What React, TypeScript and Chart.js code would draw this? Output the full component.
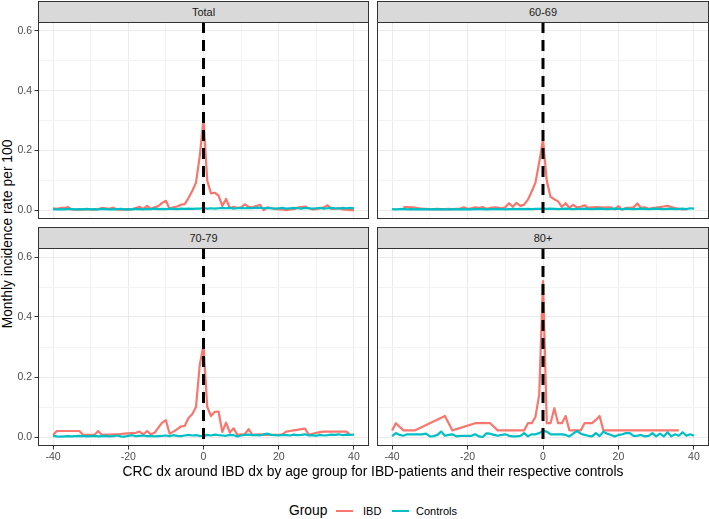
import React, { useEffect, useRef } from "react";
import { Chart, registerables } from "chart.js";

Chart.register(...registerables);

const FONT = "'Liberation Sans', Arial, Helvetica, sans-serif";
Chart.defaults.font.family = FONT;

// ---- axes ----
const X_MIN = -44;
const X_MAX = 44;
const Y_MIN = -0.03;
const Y_MAX = 0.63;
const xMajor = [-40, -20, 0, 20, 40];
const xMinor = [-30, -10, 10, 30];
const yMajor = [0, 0.2, 0.4, 0.6];
const yMinor = [0.1, 0.3, 0.5];
const refLineX = 0;

// ---- categories ----
const panelTitles = ["Total", "60-69", "70-79", "80+"];
const groupLabels = ["IBD", "Controls"];

// ---- months ----
const monthsAll = [
  -40, -39, -38, -37, -36, -35, -34, -33, -32, -31, -30, -29, -28, -27, -26, -25, -24, -23, -22, -21,
  -20, -19, -18, -17, -16, -15, -14, -13, -12, -11, -10, -9, -8, -7, -6, -5, -4, -3, -2, -1,
  0, 1, 2, 3, 4, 5, 6, 7, 8, 9, 10, 11, 12, 13, 14, 15, 16, 17, 18, 19,
  20, 21, 22, 23, 24, 25, 26, 27, 28, 29, 30, 31, 32, 33, 34, 35, 36, 37, 38, 39, 40,
];
const months6069Ibd = monthsAll.slice(3, 79); // -37 .. 38
const months7079Ibd = monthsAll.slice(0, 80); // -40 .. 39
const months80Ibd = [-40, -39, -37, -34, -26, -24, -18, -14, -12, -5, -4, -3, -2, -1, 0, 1, 2, 3, 4, 5, 6, 7, 10, 11, 13, 14, 15, 16, 36];

// ---- Total ----
const totalIbd = [
  0.006, 0.004, 0.007, 0.007, 0.010, 0.002, 0.001, 0.001, 0.002, 0.002,
  0.002, 0.001, 0.003, 0.007, 0.006, 0.004, 0.008, 0.002, 0.001, 0.002,
  0.001, 0.003, 0.007, 0.011, 0.004, 0.014, 0.004, 0.009, 0.013, 0.024,
  0.031, 0.004, 0.009, 0.012, 0.018, 0.020, 0.040, 0.064, 0.092, 0.180,
  0.304, 0.098, 0.056, 0.058, 0.048, 0.014, 0.037, 0.007, 0.011, 0.007,
  0.009, 0.019, 0.011, 0.009, 0.013, 0.018, 0.000, 0.009, 0.006, 0.004,
  0.002, 0.002, 0.000, 0.002, 0.003, 0.008, 0.010, 0.012, 0.006, 0.002,
  0.003, 0.006, 0.009, 0.016, 0.004, 0.004, 0.007, 0.002, 0.001, 0.000, 0.000,
];
const totalCtrl = [
  0.003, 0.002, 0.003, 0.002, 0.004, 0.003, 0.002, 0.003, 0.002, 0.004,
  0.002, 0.003, 0.002, 0.004, 0.003, 0.002, 0.002, 0.003, 0.004, 0.002,
  0.003, 0.002, 0.004, 0.003, 0.002, 0.004, 0.003, 0.005, 0.003, 0.004,
  0.003, 0.005, 0.004, 0.003, 0.005, 0.004, 0.005, 0.004, 0.005, 0.005,
  0.006, 0.005, 0.006, 0.005, 0.006, 0.007, 0.006, 0.007, 0.005, 0.006,
  0.007, 0.006, 0.007, 0.006, 0.008, 0.007, 0.006, 0.007, 0.006, 0.005,
  0.006, 0.007, 0.005, 0.006, 0.007, 0.006, 0.005, 0.007, 0.006, 0.005,
  0.006, 0.007, 0.005, 0.006, 0.007, 0.006, 0.005, 0.007, 0.006, 0.007, 0.006,
];

// ---- 60-69 ----
const ibd6069 = [
  0.010, 0.010, 0.009, 0.008, 0.006, 0.004, 0.004,
  0.003, 0.003, 0.004, 0.003, 0.003, 0.004, 0.003, 0.004, 0.004, 0.009,
  0.004, 0.006, 0.009, 0.007, 0.010, 0.004, 0.007, 0.009, 0.008, 0.006,
  0.009, 0.023, 0.011, 0.024, 0.014, 0.018, 0.035, 0.062, 0.092, 0.160,
  0.237, 0.098, 0.044, 0.036, 0.029, 0.011, 0.023, 0.007, 0.017, 0.009,
  0.011, 0.016, 0.007, 0.009, 0.010, 0.009, 0.008, 0.009, 0.009, 0.002,
  0.013, 0.001, 0.007, 0.007, 0.009, 0.022, 0.007, 0.009, 0.004, 0.007,
  0.008, 0.010, 0.012, 0.014, 0.010, 0.007, 0.004, 0.002, 0.003,
];
const ctrl6069 = [
  0.003, 0.002, 0.003, 0.004, 0.002, 0.003, 0.002, 0.003, 0.002, 0.003,
  0.002, 0.003, 0.002, 0.003, 0.002, 0.002, 0.003, 0.002, 0.003, 0.002,
  0.003, 0.002, 0.003, 0.004, 0.003, 0.002, 0.003, 0.003, 0.004, 0.003,
  0.002, 0.003, 0.004, 0.003, 0.004, 0.003, 0.004, 0.003, 0.004, 0.004,
  0.005, 0.004, 0.005, 0.004, 0.003, 0.004, 0.005, 0.004, 0.003, 0.004,
  0.004, 0.005, 0.004, 0.003, 0.004, 0.005, 0.004, 0.003, 0.004, 0.005,
  0.004, 0.003, 0.005, 0.004, 0.003, 0.004, 0.005, 0.004, 0.003, 0.004,
  0.005, 0.004, 0.003, 0.004, 0.005, 0.003, 0.004, 0.005, 0.003, 0.006, 0.005,
];

// ---- 70-79 ----
const ibd7079 = [
  0.007, 0.020, 0.020, 0.020, 0.020, 0.020, 0.020, 0.020, 0.007, 0.007,
  0.007, 0.007, 0.020, 0.007, 0.008, 0.008, 0.009, 0.009, 0.010, 0.011,
  0.012, 0.013, 0.014, 0.018, 0.009, 0.020, 0.009, 0.014, 0.031, 0.048,
  0.056, 0.011, 0.018, 0.026, 0.035, 0.037, 0.063, 0.076, 0.100, 0.240,
  0.306, 0.100, 0.070, 0.084, 0.085, 0.017, 0.048, 0.015, 0.029, 0.007,
  0.009, 0.010, 0.026, 0.007, 0.008, 0.009, 0.007, 0.007, 0.007, 0.007,
  0.007, 0.009, 0.018, 0.020, 0.022, 0.024, 0.026, 0.028, 0.007, 0.011,
  0.014, 0.016, 0.018, 0.018, 0.018, 0.018, 0.018, 0.018, 0.018, 0.007,
];
const ctrl7079 = [
  0.004, 0.002, 0.001, 0.002, 0.003, 0.002, 0.003, 0.004, 0.003, 0.002,
  0.003, 0.004, 0.002, 0.003, 0.004, 0.002, 0.003, 0.005, 0.002, 0.001,
  0.004, 0.006, 0.003, 0.004, 0.005, 0.003, 0.004, 0.002, 0.003, 0.004,
  0.005, 0.003, 0.006, 0.004, 0.003, 0.005, 0.007, 0.005, 0.006, 0.004,
  0.003, 0.007, 0.005, 0.008, 0.006, 0.005, 0.004, 0.007, 0.006, 0.002,
  0.005, 0.007, 0.008, 0.006, 0.007, 0.005, 0.009, 0.011, 0.007, 0.006,
  0.005, 0.007, 0.006, 0.005, 0.008, 0.006, 0.007, 0.009, 0.005, 0.006,
  0.004, 0.007, 0.005, 0.006, 0.008, 0.007, 0.009, 0.006, 0.008, 0.007, 0.008,
];

// ---- 80+ ----
const ibd80 = [
  0.022, 0.046, 0.022, 0.022, 0.070, 0.022, 0.046, 0.046, 0.022, 0.022,
  0.046, 0.046, 0.067, 0.142, 0.520, 0.046, 0.046, 0.096, 0.046, 0.046,
  0.070, 0.022, 0.022, 0.046, 0.046, 0.057, 0.070, 0.022, 0.022,
];
const ctrl80 = [
  0.003, 0.013, 0.007, 0.004, 0.009, 0.009, 0.009, 0.009, 0.009, 0.011,
  0.002, 0.003, 0.007, 0.018, 0.004, 0.007, 0.009, 0.002, 0.004, 0.004,
  0.004, 0.004, 0.009, 0.002, 0.000, 0.012, 0.011, 0.007, 0.004, 0.007,
  0.009, 0.004, 0.002, 0.002, 0.004, 0.013, 0.002, 0.009, 0.009, 0.013,
  0.020, 0.018, 0.009, 0.009, 0.009, 0.009, 0.007, 0.002, 0.011, 0.020,
  0.011, 0.007, 0.004, 0.002, 0.013, 0.003, 0.018, 0.011, 0.007, 0.002,
  0.007, 0.009, 0.013, 0.013, 0.004, 0.004, 0.007, 0.002, 0.004, 0.013,
  0.002, 0.011, 0.002, 0.016, 0.002, 0.009, 0.004, 0.016, 0.004, 0.009, 0.004,
];

const IBD_COLOR = "#F8766D";
const CTRL_COLOR = "#00BFC4";

type PanelSpec = {
  title: string;
  stripTop: number;
  plotLeft: number;
  plotTop: number;
  plotW: number;
  plotH: number;
  showX: boolean;
  showY: boolean;
  ibdX: number[];
  ibdY: number[];
  ctrlX: number[];
  ctrlY: number[];
};

const Y_AXIS_W = 22;
const X_AXIS_H = 20;

const panels: PanelSpec[] = [
  { title: panelTitles[0], stripTop: 1, plotLeft: 38, plotTop: 22, plotW: 331, plotH: 197, showX: false, showY: true, ibdX: monthsAll, ibdY: totalIbd, ctrlX: monthsAll, ctrlY: totalCtrl },
  { title: panelTitles[1], stripTop: 1, plotLeft: 377, plotTop: 22, plotW: 332, plotH: 197, showX: false, showY: false, ibdX: months6069Ibd, ibdY: ibd6069, ctrlX: monthsAll, ctrlY: ctrl6069 },
  { title: panelTitles[2], stripTop: 227, plotLeft: 38, plotTop: 248, plotW: 331, plotH: 198, showX: true, showY: true, ibdX: months7079Ibd, ibdY: ibd7079, ctrlX: monthsAll, ctrlY: ctrl7079 },
  { title: panelTitles[3], stripTop: 227, plotLeft: 377, plotTop: 248, plotW: 332, plotH: 198, showX: true, showY: false, ibdX: months80Ibd, ibdY: ibd80, ctrlX: monthsAll, ctrlY: ctrl80 },
];

const borderPlugin = {
  id: "panelBorder",
  afterDraw(chart: any) {
    const { ctx, chartArea } = chart;
    ctx.save();
    ctx.strokeStyle = "#333333";
    ctx.lineWidth = 1;
    ctx.strokeRect(chartArea.left + 0.5, chartArea.top + 0.5, chartArea.right - chartArea.left - 1, chartArea.bottom - chartArea.top - 1);
    ctx.restore();
  },
};

function zeroPadding(s: any) {
  s.paddingTop = 0;
  s.paddingBottom = 0;
  s.paddingLeft = 0;
  s.paddingRight = 0;
}

function Panel({ spec }: { spec: PanelSpec }) {
  const ref = useRef<HTMLCanvasElement>(null);
  const cw = spec.plotW + (spec.showY ? Y_AXIS_W : 0);
  const ch = spec.plotH + (spec.showX ? X_AXIS_H : 0);
  const cl = spec.plotLeft - (spec.showY ? Y_AXIS_W : 0);

  useEffect(() => {
    const xTicks = [...xMajor, ...xMinor].sort((a, b) => a - b);
    const yTicks = [...yMajor, ...yMinor].sort((a, b) => a - b);
    const chart = new Chart(ref.current as HTMLCanvasElement, {
      type: "line",
      data: {
        datasets: [
          {
            label: "ref",
            data: [
              { x: refLineX, y: Y_MAX },
              { x: refLineX, y: Y_MIN },
            ],
            borderColor: "#000000",
            borderWidth: 3,
            borderDash: [11, 7],
            borderCapStyle: "butt",
            pointRadius: 0,
          },
          {
            label: groupLabels[1],
            data: spec.ctrlX.map((x, i) => ({ x, y: spec.ctrlY[i] })),
            borderColor: CTRL_COLOR,
            borderWidth: 2.2,
            borderJoinStyle: "round",
            pointRadius: 0,
            tension: 0,
          },
          {
            label: groupLabels[0],
            data: spec.ibdX.map((x, i) => ({ x, y: spec.ibdY[i] })),
            borderColor: IBD_COLOR,
            borderWidth: 2.2,
            borderJoinStyle: "round",
            pointRadius: 0,
            tension: 0,
          },
        ],
      } as any,
      options: {
        animation: false,
        responsive: false,
        maintainAspectRatio: false,
        events: [],
        layout: { padding: 0, autoPadding: false },
        plugins: { legend: { display: false }, tooltip: { enabled: false }, title: { display: false } },
        scales: {
          x: {
            type: "linear",
            min: X_MIN,
            max: X_MAX,
            afterBuildTicks: (s: any) => {
              s.ticks = xTicks.map((v) => ({ value: v }));
            },
            afterFit: (s: any) => {
              s.height = spec.showX ? X_AXIS_H : 0;
              zeroPadding(s);
            },
            border: { display: false },
            grid: {
              color: (c: any) => (c.tick && xMajor.includes(c.tick.value) ? "#EBEBEB" : "#F4F4F4"),
              lineWidth: 1,
              drawTicks: spec.showX,
              tickLength: 3.5,
              tickWidth: 1,
              tickColor: (c: any) => (c.tick && xMajor.includes(c.tick.value) ? "#333333" : "rgba(0,0,0,0)"),
            },
            ticks: {
              display: spec.showX,
              autoSkip: false,
              maxRotation: 0,
              padding: 1.5,
              color: "#4D4D4D",
              font: { size: 10.5, family: FONT },
              callback: (v: any) => (xMajor.includes(Number(v)) ? String(v) : ""),
            },
          },
          y: {
            type: "linear",
            min: Y_MIN,
            max: Y_MAX,
            afterBuildTicks: (s: any) => {
              s.ticks = yTicks.map((v) => ({ value: v }));
            },
            afterFit: (s: any) => {
              s.width = spec.showY ? Y_AXIS_W : 0;
              zeroPadding(s);
            },
            border: { display: false },
            grid: {
              color: (c: any) => (c.tick && yMajor.includes(c.tick.value) ? "#EBEBEB" : "#F4F4F4"),
              lineWidth: 1,
              drawTicks: spec.showY,
              tickLength: 3.5,
              tickWidth: 1,
              tickColor: (c: any) => (c.tick && yMajor.includes(c.tick.value) ? "#333333" : "rgba(0,0,0,0)"),
            },
            ticks: {
              display: spec.showY,
              autoSkip: false,
              padding: 2.5,
              color: "#4D4D4D",
              font: { size: 10.5, family: FONT },
              callback: (v: any) => (yMajor.includes(Number(v)) ? Number(v).toFixed(1) : ""),
            },
          },
        },
      } as any,
      plugins: [borderPlugin],
    });
    return () => chart.destroy();
  }, [spec]);

  return (
    <>
      <canvas
        ref={ref}
        width={cw}
        height={ch}
        style={{ position: "absolute", left: cl, top: spec.plotTop, width: cw, height: ch }}
      />
      <div
        style={{
          position: "absolute",
          left: spec.plotLeft,
          top: spec.stripTop,
          width: spec.plotW,
          height: spec.plotTop - spec.stripTop + 1,
          boxSizing: "border-box",
          border: "1px solid #333333",
          background: "#D9D9D9",
          color: "#1A1A1A",
          fontSize: 11,
          display: "flex",
          alignItems: "center",
          justifyContent: "center",
        }}
      >
        {spec.title}
      </div>
    </>
  );
}

export default function App() {
  return (
    <div
      style={{
        position: "absolute",
        left: 0,
        top: 0,
        width: 709,
        height: 519,
        background: "#ffffff",
        fontFamily: FONT,
        overflow: "hidden",
      }}
    >
      {panels.map((p) => (
        <Panel key={p.title} spec={p} />
      ))}
      <div
        style={{
          position: "absolute",
          left: 8 - 150,
          top: 234 - 8,
          width: 300,
          height: 16,
          lineHeight: "16px",
          textAlign: "center",
          fontSize: 13.8,
          color: "#000",
          transform: "rotate(-90deg)",
          whiteSpace: "nowrap",
        }}
      >
        Monthly incidence rate per 100
      </div>
      <div
        style={{
          position: "absolute",
          left: 38,
          top: 472 - 8,
          width: 670,
          height: 16,
          lineHeight: "16px",
          textAlign: "center",
          fontSize: 13.8,
          color: "#000",
          whiteSpace: "nowrap",
        }}
      >
        CRC dx around IBD dx by age group for IBD-patients and their respective controls
      </div>
      <div style={{ position: "absolute", left: 289, top: 511 - 8, height: 16, lineHeight: "16px", fontSize: 13.8, color: "#000", whiteSpace: "nowrap" }}>
        Group
      </div>
      <div style={{ position: "absolute", left: 336, top: 510, width: 17, height: 2.2, background: IBD_COLOR }} />
      <div style={{ position: "absolute", left: 363, top: 511 - 7, height: 14, lineHeight: "14px", fontSize: 11, color: "#000", whiteSpace: "nowrap" }}>
        {groupLabels[0]}
      </div>
      <div style={{ position: "absolute", left: 392, top: 510, width: 17, height: 2.2, background: CTRL_COLOR }} />
      <div style={{ position: "absolute", left: 416, top: 511 - 7, height: 14, lineHeight: "14px", fontSize: 11, color: "#000", whiteSpace: "nowrap" }}>
        {groupLabels[1]}
      </div>
    </div>
  );
}
